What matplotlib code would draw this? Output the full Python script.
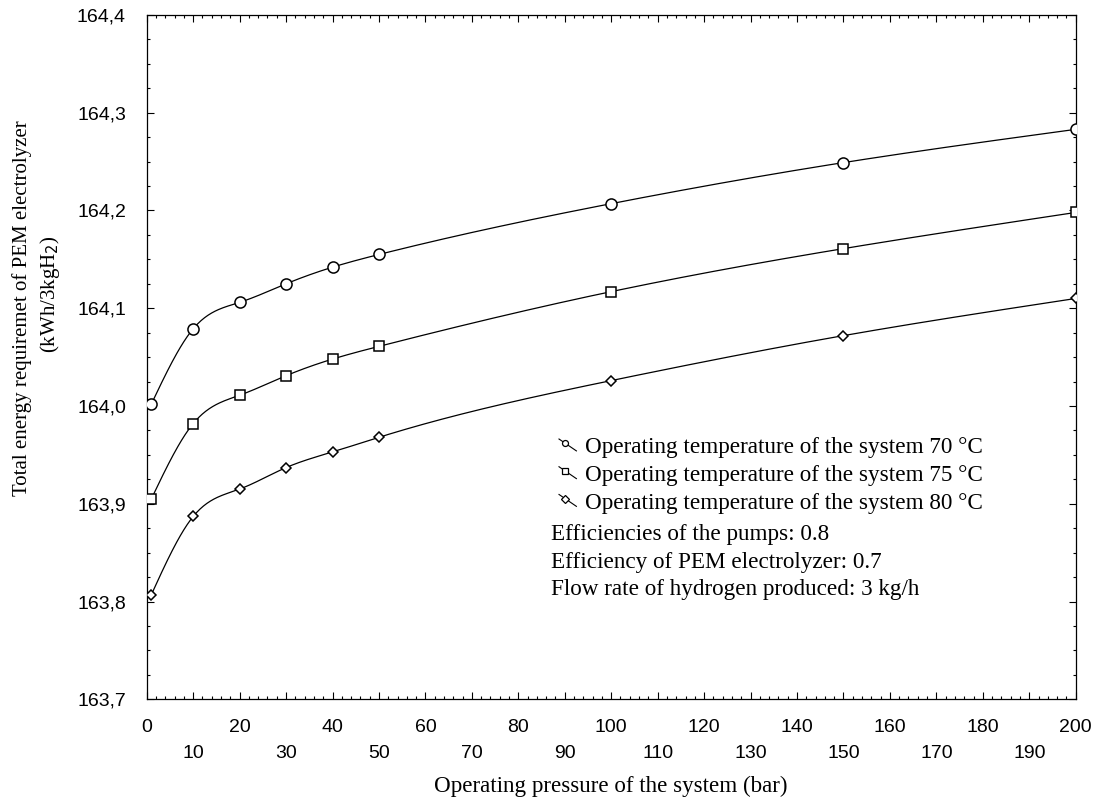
import numpy as np
import matplotlib.pyplot as plt
from matplotlib.lines import Line2D
from matplotlib.legend_handler import HandlerLine2D
from matplotlib.ticker import MultipleLocator, FuncFormatter

# operating pressure (bar) and total energy requirement (kWh/3kgH2)
pressure = [1, 10, 20, 30, 40, 50, 100, 150, 200]
t70 = [164.002, 164.079, 164.106, 164.125, 164.142, 164.155, 164.207, 164.249, 164.283]
t75 = [163.905, 163.982, 164.011, 164.031, 164.048, 164.061, 164.117, 164.161, 164.198]
t80 = [163.807, 163.887, 163.915, 163.937, 163.953, 163.968, 164.026, 164.072, 164.110]

labels = ['Operating temperature of the system 70 \u00b0C',
          'Operating temperature of the system 75 \u00b0C',
          'Operating temperature of the system 80 \u00b0C']
notes = ['Efficiencies of the pumps: 0.8',
         'Efficiency of PEM electrolyzer: 0.7',
         'Flow rate of hydrogen produced: 3 kg/h']

serif = 'Liberation Serif'
sans = 'Liberation Sans'


def smooth(x, y, xs):
    # natural cubic spline, only used to draw the connecting curve
    x = np.asarray(x, float)
    y = np.asarray(y, float)
    n = len(x)
    h = np.diff(x)
    A = np.zeros((n, n))
    r = np.zeros(n)
    A[0, 0] = A[-1, -1] = 1
    for i in range(1, n - 1):
        A[i, i - 1] = h[i - 1]
        A[i, i] = 2 * (h[i - 1] + h[i])
        A[i, i + 1] = h[i]
        r[i] = 3 * ((y[i + 1] - y[i]) / h[i] - (y[i] - y[i - 1]) / h[i - 1])
    c = np.linalg.solve(A, r)
    b = (y[1:] - y[:-1]) / h - h * (2 * c[:-1] + c[1:]) / 3
    d = (c[1:] - c[:-1]) / (3 * h)
    idx = np.clip(np.searchsorted(x, xs) - 1, 0, n - 2)
    dx = xs - x[idx]
    return y[idx] + b[idx] * dx + c[idx] * dx ** 2 + d[idx] * dx ** 3


class DiagHandler(HandlerLine2D):
    def create_artists(self, legend, orig_handle, xdescent, ydescent,
                       width, height, fontsize, trans):
        x0, x1 = -xdescent, width - xdescent
        y0, y1 = -ydescent + height * 0.95, -ydescent + height * 0.05
        seg = Line2D([x0, x1], [y0, y1], color='black', lw=0.8)
        mk = Line2D([x0 + 0.35 * (x1 - x0)], [y0 + 0.35 * (y1 - y0)],
                    marker=orig_handle.get_marker(), ms=4.3, mfc='white',
                    mec='black', mew=0.9, ls='none')
        seg.set_transform(trans)
        mk.set_transform(trans)
        return [seg, mk]


fig = plt.figure(figsize=(10.99, 8.01), dpi=100)
ax = fig.add_axes([0.1335, 0.127, 0.8453, 0.8543])

xs = np.linspace(pressure[0], pressure[-1], 800)
handles = []
for vals, mk, ms in [(t70, 'o', 8), (t75, 's', 7.8), (t80, 'D', 5.6)]:
    ax.plot(xs, smooth(pressure, vals, xs), color='black', lw=0.9, zorder=2)
    h, = ax.plot(pressure, vals, ls='none', marker=mk, ms=ms, mfc='white',
                 mec='black', mew=1.1, zorder=3)
    handles.append(h)

ax.set_xlim(0, 200)
ax.set_ylim(163.7, 164.4)

ax.xaxis.set_major_locator(MultipleLocator(10))
ax.xaxis.set_minor_locator(MultipleLocator(2))
ax.yaxis.set_major_locator(MultipleLocator(0.1))
ax.yaxis.set_minor_locator(MultipleLocator(0.025))
ax.yaxis.set_major_formatter(FuncFormatter(lambda v, p: f'{v:.1f}'.replace('.', ',')))
ax.xaxis.set_major_formatter(FuncFormatter(lambda v, p: f'{v:.0f}'))

ax.tick_params(which='both', direction='in', top=True, right=True, width=0.8)
ax.tick_params(which='major', length=5)
ax.tick_params(which='minor', length=2.5)
ax.tick_params(axis='x', pad=14.3)
ax.tick_params(axis='y', pad=15)
ax.tick_params(labelfontfamily=sans, labelsize=14)
# staggered x labels: 10, 30, ... on a second row
for t, v in zip(ax.xaxis.get_major_ticks(), ax.xaxis.get_majorticklocs()):
    if round(v) % 20 == 10:
        t.set_pad(32.8)
for s in ax.spines.values():
    s.set_linewidth(0.9)

ax.set_xlabel('Operating pressure of the system (bar)', family=serif,
              fontsize=16.6, labelpad=10)
fig.text(21.7 / 1099, 1 - 308 / 801, 'Total energy requiremet of PEM electrolyzer',
         family=serif, fontsize=15, rotation=90, ha='center', va='center')
fig.text(50 / 1099, 1 - 294 / 801, '(kWh/3kgH$_2$)', family=serif,
         fontsize=15, rotation=90, ha='center', va='center')

ax.legend(handles, labels, handler_map={Line2D: DiagHandler()},
          loc='upper left', bbox_to_anchor=(0.4438, 0.383), frameon=False,
          borderpad=0, borderaxespad=0, handlelength=0.75, handleheight=0.5,
          handletextpad=0.35, labelspacing=0.29,
          prop={'family': serif, 'size': 16.7})

for i, s in enumerate(notes):
    ax.text(0.4352, [0.2405, 0.2006, 0.1601][i], s, transform=ax.transAxes,
            family=serif, fontsize=16.7, va='center', ha='left')

fig.savefig('out.png', dpi=100)
